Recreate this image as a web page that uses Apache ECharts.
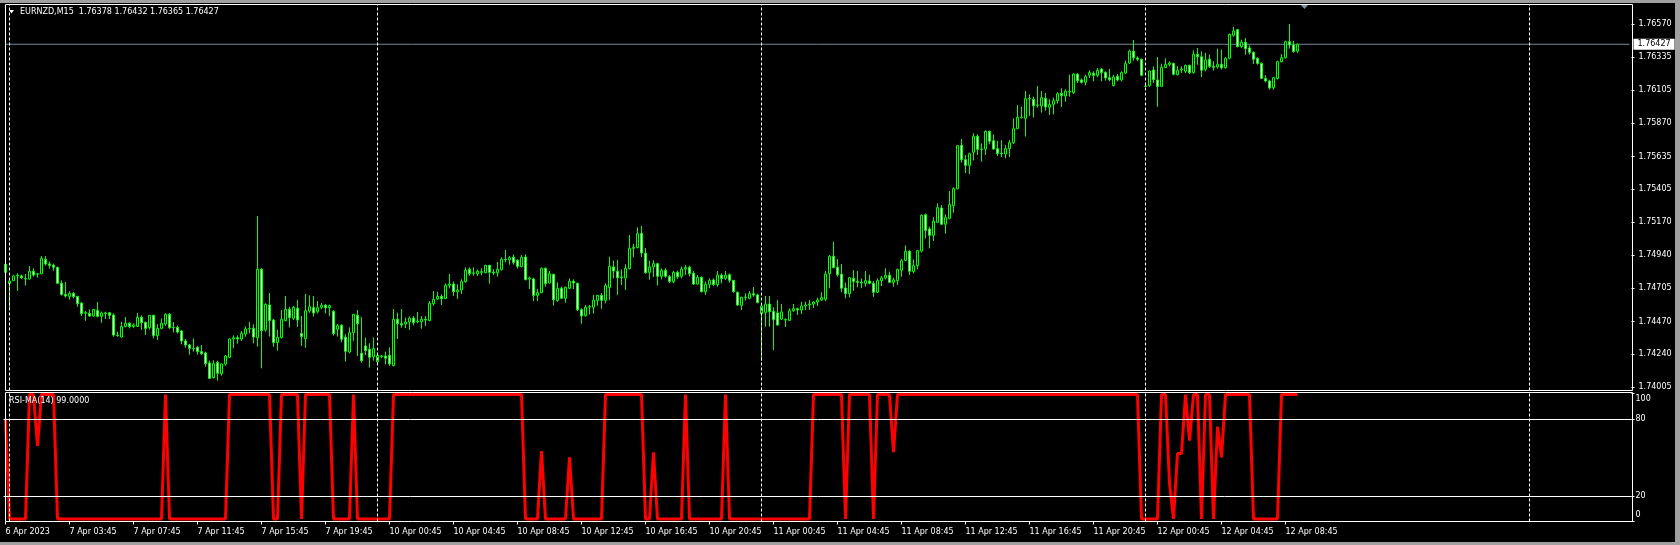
<!DOCTYPE html>
<html>
<head>
<meta charset="utf-8">
<title>EURNZD,M15</title>
<script src="https://cdn.jsdelivr.net/npm/echarts@6/dist/echarts.min.js"></script>
<style>
html, body { margin: 0; padding: 0; background: #000; }
#chart { width: 1680px; height: 545px; }
#frame { position: absolute; left: 0; top: 0; width: 1680px; height: 545px; box-sizing: border-box;
    border-top: 3px solid #a0a0a0; border-right: 5px solid #a0a0a0; border-bottom: 3px solid #a0a0a0; pointer-events: none; }
</style>
</head>
<body>
<div id="chart"></div>
<div id="frame"></div>
<script>
// M15 bars, 6 Apr 23:45 .. 12 Apr 08:45
var timeLabels = ['6 Apr 2023', '7 Apr 03:45', '7 Apr 07:45', '7 Apr 11:45', '7 Apr 15:45', '7 Apr 19:45',
    '10 Apr 00:45', '10 Apr 04:45', '10 Apr 08:45', '10 Apr 12:45', '10 Apr 16:45', '10 Apr 20:45',
    '11 Apr 00:45', '11 Apr 04:45', '11 Apr 08:45', '11 Apr 12:45', '11 Apr 16:45', '11 Apr 20:45',
    '12 Apr 00:45', '12 Apr 04:45', '12 Apr 08:45'];
var labelStep = 16;
var slotCount = 407;
var daySeparators = [1, 93, 189, 285, 381];
var priceTicks = [1.74005, 1.74240, 1.74470, 1.74705, 1.74940, 1.75170, 1.75405, 1.75635, 1.75870, 1.76105, 1.76335, 1.76570];
var rsiTicks = [0, 20, 80, 100];
var rsiLevels = [80, 20];
var lastPrice = 1.76427;

var opens = [
1.74873,1.74737,1.74758,1.74791,1.74791,1.74772,1.74770,1.74824,1.74803,1.74807,
1.74908,1.74876,1.74866,1.74852,1.74739,1.74661,1.74647,1.74668,1.74647,1.74600,
1.74527,1.74527,1.74508,1.74548,1.74506,1.74530,1.74532,1.74515,1.74374,1.74360,
1.74435,1.74457,1.74435,1.74435,1.74499,1.74464,1.74426,1.74513,1.74370,1.74421,
1.74452,1.74520,1.74426,1.74428,1.74403,1.74332,1.74304,1.74280,1.74287,1.74257,
1.74247,1.74177,1.74073,1.74181,1.74101,1.74170,1.74217,1.74346,1.74355,1.74346,
1.74381,1.74417,1.74421,1.74355,1.74838,1.74410,1.74586,1.74480,1.74320,1.74356,
1.74476,1.74556,1.74492,1.74563,1.74384,1.74348,1.74544,1.74567,1.74539,1.74570,
1.74584,1.74567,1.74541,1.74414,1.74443,1.74358,1.74254,1.74391,1.74513,1.74245,
1.74297,1.74273,1.74221,1.74184,1.74221,1.74226,1.74231,1.74158,1.74485,1.74454,
1.74452,1.74466,1.74494,1.74468,1.74468,1.74485,1.74476,1.74596,1.74629,1.74647,
1.74631,1.74725,1.74734,1.74680,1.74692,1.74751,1.74838,1.74812,1.74807,1.74821,
1.74814,1.74866,1.74817,1.74814,1.74836,1.74909,1.74904,1.74923,1.74901,1.74857,
1.74925,1.74770,1.74770,1.74654,1.74673,1.74845,1.74741,1.74803,1.74617,1.74704,
1.74633,1.74704,1.74753,1.74739,1.74553,1.74511,1.74570,1.74570,1.74617,1.74654,
1.74619,1.74709,1.74854,1.74824,1.74779,1.74777,1.74843,1.74986,1.74991,1.75090,
1.74951,1.74817,1.74854,1.74878,1.74789,1.74831,1.74786,1.74751,1.74817,1.74789,
1.74840,1.74852,1.74810,1.74734,1.74781,1.74680,1.74732,1.74763,1.74730,1.74796,
1.74774,1.74800,1.74760,1.74676,1.74584,1.74640,1.74633,1.74666,1.74657,1.74525,
1.74534,1.74593,1.74541,1.74530,1.74487,1.74483,1.74478,1.74546,1.74560,1.74551,
1.74579,1.74586,1.74593,1.74607,1.74621,1.74626,1.74807,1.74930,1.74852,1.74803,
1.74706,1.74666,1.74774,1.74753,1.74746,1.74739,1.74756,1.74739,1.74676,1.74758,
1.74777,1.74796,1.74746,1.74758,1.74831,1.74901,1.74965,1.74822,1.74864,1.74967,
1.75224,1.75123,1.75078,1.75170,1.75271,1.75156,1.75198,1.75287,1.75407,1.75713,
1.75612,1.75572,1.75664,1.75777,1.75687,1.75687,1.75812,1.75746,1.75690,1.75657,
1.75652,1.75690,1.75732,1.75831,1.75909,1.75904,1.76045,1.76038,1.75996,1.75991,
1.76045,1.75982,1.76003,1.76029,1.76081,1.76062,1.76090,1.76085,1.76215,1.76175,
1.76158,1.76208,1.76222,1.76208,1.76252,1.76229,1.76191,1.76135,1.76201,1.76175,
1.76224,1.76295,1.76377,1.76330,1.76321,1.76132,1.76135,1.76245,1.76175,1.76130,
1.76262,1.76285,1.76292,1.76212,1.76245,1.76236,1.76278,1.76227,1.76356,1.76339,
1.76250,1.76321,1.76271,1.76267,1.76285,1.76262,1.76328,1.76490,1.76530,1.76410,
1.76441,1.76401,1.76370,1.76328,1.76292,1.76186,1.76168,1.76121,1.76186,1.76304,
1.76332,1.76445,1.76422,1.76378];

var highs = [
1.74880,1.74760,1.74798,1.74810,1.74800,1.74805,1.74861,1.74845,1.74810,1.74932,
1.74932,1.74892,1.74878,1.74857,1.74760,1.74748,1.74683,1.74678,1.74650,1.74607,
1.74544,1.74555,1.74555,1.74607,1.74539,1.74539,1.74537,1.74527,1.74398,1.74468,
1.74501,1.74464,1.74457,1.74530,1.74513,1.74468,1.74513,1.74518,1.74450,1.74490,
1.74527,1.74530,1.74466,1.74440,1.74410,1.74346,1.74311,1.74351,1.74297,1.74304,
1.74257,1.74193,1.74195,1.74193,1.74172,1.74233,1.74351,1.74372,1.74372,1.74403,
1.74435,1.74468,1.74450,1.75214,1.74847,1.74598,1.74671,1.74487,1.74410,1.74551,
1.74650,1.74574,1.74579,1.74621,1.74508,1.74664,1.74654,1.74650,1.74614,1.74600,
1.74593,1.74589,1.74551,1.74452,1.74450,1.74379,1.74428,1.74523,1.74551,1.74501,
1.74356,1.74316,1.74356,1.74245,1.74233,1.74257,1.74287,1.74558,1.74532,1.74558,
1.74497,1.74504,1.74508,1.74537,1.74508,1.74508,1.74614,1.74685,1.74680,1.74661,
1.74739,1.74805,1.74751,1.74732,1.74767,1.74852,1.74852,1.74852,1.74836,1.74845,
1.74869,1.74869,1.74838,1.74890,1.74923,1.74974,1.74932,1.74942,1.74911,1.74939,
1.74944,1.74786,1.74779,1.74699,1.74850,1.74850,1.74826,1.74805,1.74746,1.74716,
1.74716,1.74774,1.74767,1.74744,1.74563,1.74586,1.74586,1.74657,1.74657,1.74671,
1.74739,1.74927,1.74899,1.74904,1.74838,1.74873,1.75080,1.75017,1.75134,1.75144,
1.74989,1.74899,1.74902,1.74883,1.74845,1.74845,1.74798,1.74826,1.74829,1.74857,
1.74869,1.74864,1.74826,1.74798,1.74789,1.74751,1.74774,1.74774,1.74826,1.74810,
1.74826,1.74810,1.74763,1.74680,1.74645,1.74669,1.74685,1.74713,1.74666,1.74596,
1.74650,1.74650,1.74570,1.74621,1.74593,1.74492,1.74563,1.74593,1.74567,1.74609,
1.74609,1.74621,1.74614,1.74638,1.74676,1.74826,1.74939,1.75033,1.74911,1.74876,
1.74744,1.74784,1.74833,1.74826,1.74774,1.74826,1.74800,1.74756,1.74774,1.74791,
1.74845,1.74822,1.74779,1.74843,1.74911,1.75007,1.74974,1.74908,1.74974,1.75226,
1.75231,1.75139,1.75205,1.75304,1.75292,1.75226,1.75391,1.75417,1.75716,1.75758,
1.75645,1.75662,1.75798,1.75791,1.75727,1.75819,1.75817,1.75791,1.75744,1.75749,
1.75716,1.75751,1.75904,1.75998,1.75986,1.76097,1.76073,1.76057,1.76132,1.76097,
1.76083,1.76038,1.76050,1.76088,1.76116,1.76109,1.76212,1.76221,1.76224,1.76186,
1.76212,1.76243,1.76236,1.76259,1.76259,1.76236,1.76252,1.76212,1.76217,1.76236,
1.76311,1.76389,1.76457,1.76342,1.76325,1.76142,1.76241,1.76271,1.76337,1.76290,
1.76328,1.76307,1.76297,1.76271,1.76271,1.76283,1.76283,1.76384,1.76401,1.76377,
1.76365,1.76354,1.76307,1.76396,1.76389,1.76335,1.76502,1.76549,1.76535,1.76459,
1.76471,1.76419,1.76377,1.76335,1.76299,1.76208,1.76177,1.76196,1.76311,1.76358,
1.76452,1.76570,1.76452,1.76432];

var lows = [
1.74814,1.74563,1.74755,1.74685,1.74770,1.74723,1.74765,1.74786,1.74779,1.74805,
1.74864,1.74843,1.74828,1.74737,1.74652,1.74638,1.74624,1.74633,1.74574,1.74508,
1.74475,1.74504,1.74504,1.74499,1.74461,1.74487,1.74487,1.74362,1.74362,1.74355,
1.74428,1.74421,1.74424,1.74431,1.74410,1.74374,1.74412,1.74351,1.74339,1.74414,
1.74438,1.74417,1.74393,1.74384,1.74308,1.74285,1.74235,1.74257,1.74235,1.74233,
1.74151,1.74066,1.74068,1.74052,1.74087,1.74158,1.74214,1.74280,1.74313,1.74332,
1.74362,1.74386,1.74315,1.74292,1.74139,1.74398,1.74363,1.74292,1.74264,1.74351,
1.74471,1.74428,1.74480,1.74431,1.74297,1.74285,1.74532,1.74504,1.74527,1.74556,
1.74527,1.74508,1.74370,1.74363,1.74323,1.74186,1.74245,1.74334,1.74226,1.74179,
1.74233,1.74144,1.74193,1.74174,1.74210,1.74167,1.74156,1.74153,1.74346,1.74426,
1.74424,1.74410,1.74443,1.74457,1.74419,1.74438,1.74471,1.74581,1.74621,1.74586,
1.74629,1.74704,1.74650,1.74629,1.74664,1.74744,1.74793,1.74793,1.74791,1.74796,
1.74810,1.74737,1.74798,1.74786,1.74829,1.74887,1.74871,1.74871,1.74843,1.74852,
1.74760,1.74699,1.74614,1.74614,1.74669,1.74716,1.74737,1.74581,1.74610,1.74629,
1.74603,1.74699,1.74699,1.74544,1.74454,1.74504,1.74520,1.74525,1.74581,1.74560,
1.74598,1.74621,1.74774,1.74657,1.74727,1.74692,1.74838,1.74923,1.74986,1.74925,
1.74807,1.74765,1.74784,1.74723,1.74767,1.74779,1.74741,1.74739,1.74770,1.74774,
1.74798,1.74789,1.74727,1.74730,1.74676,1.74657,1.74704,1.74720,1.74716,1.74739,
1.74763,1.74744,1.74673,1.74579,1.74551,1.74617,1.74626,1.74645,1.74598,1.74191,
1.74433,1.74433,1.74268,1.74440,1.74480,1.74431,1.74473,1.74539,1.74516,1.74523,
1.74551,1.74551,1.74565,1.74579,1.74614,1.74614,1.74704,1.74845,1.74786,1.74676,
1.74633,1.74640,1.74687,1.74711,1.74704,1.74716,1.74732,1.74643,1.74671,1.74720,
1.74767,1.74741,1.74716,1.74727,1.74786,1.74897,1.74798,1.74810,1.74838,1.74958,
1.75057,1.74986,1.75038,1.75167,1.75151,1.75090,1.75191,1.75238,1.75403,1.75591,
1.75518,1.75511,1.75607,1.75645,1.75598,1.75645,1.75720,1.75683,1.75638,1.75631,
1.75622,1.75631,1.75723,1.75829,1.75904,1.75775,1.75920,1.75909,1.75979,1.75944,
1.75958,1.75928,1.75932,1.76008,1.75984,1.76022,1.76057,1.76076,1.76153,1.76149,
1.76137,1.76189,1.76165,1.76194,1.76165,1.76170,1.76165,1.76130,1.76165,1.76165,
1.76217,1.76288,1.76311,1.76307,1.76201,1.76125,1.76128,1.76154,1.75986,1.76125,
1.76259,1.76271,1.76208,1.76208,1.76224,1.76224,1.76217,1.76219,1.76283,1.76196,
1.76236,1.76259,1.76241,1.76255,1.76248,1.76255,1.76321,1.76481,1.76405,1.76401,
1.76354,1.76354,1.76288,1.76283,1.76182,1.76158,1.76106,1.76106,1.76177,1.76299,
1.76325,1.76396,1.76368,1.76365];

var closes = [
1.74817,1.74755,1.74791,1.74796,1.74779,1.74770,1.74824,1.74798,1.74807,1.74916,
1.74876,1.74866,1.74852,1.74739,1.74661,1.74650,1.74668,1.74645,1.74595,1.74525,
1.74532,1.74508,1.74555,1.74506,1.74530,1.74525,1.74513,1.74374,1.74370,1.74435,
1.74457,1.74433,1.74445,1.74499,1.74461,1.74421,1.74513,1.74370,1.74421,1.74457,
1.74520,1.74426,1.74428,1.74395,1.74332,1.74304,1.74280,1.74278,1.74257,1.74242,
1.74172,1.74068,1.74172,1.74104,1.74170,1.74226,1.74346,1.74355,1.74346,1.74386,
1.74417,1.74421,1.74360,1.74838,1.74405,1.74591,1.74476,1.74320,1.74358,1.74485,
1.74556,1.74497,1.74570,1.74480,1.74363,1.74546,1.74574,1.74530,1.74567,1.74584,
1.74567,1.74581,1.74384,1.74440,1.74344,1.74259,1.74391,1.74520,1.74454,1.74193,
1.74264,1.74217,1.74278,1.74231,1.74226,1.74210,1.74170,1.74485,1.74454,1.74445,
1.74466,1.74494,1.74461,1.74473,1.74485,1.74480,1.74598,1.74626,1.74647,1.74631,
1.74725,1.74734,1.74680,1.74692,1.74751,1.74831,1.74807,1.74810,1.74824,1.74817,
1.74866,1.74817,1.74812,1.74838,1.74909,1.74906,1.74920,1.74887,1.74859,1.74923,
1.74765,1.74777,1.74654,1.74673,1.74845,1.74737,1.74807,1.74624,1.74704,1.74633,
1.74711,1.74753,1.74741,1.74553,1.74509,1.74570,1.74574,1.74619,1.74654,1.74619,
1.74723,1.74859,1.74826,1.74779,1.74784,1.74845,1.74986,1.74993,1.75090,1.74953,
1.74814,1.74854,1.74878,1.74789,1.74831,1.74789,1.74753,1.74817,1.74786,1.74840,
1.74850,1.74807,1.74734,1.74781,1.74680,1.74732,1.74760,1.74730,1.74796,1.74772,
1.74796,1.74760,1.74680,1.74586,1.74640,1.74643,1.74666,1.74657,1.74603,1.74579,
1.74593,1.74539,1.74483,1.74445,1.74537,1.74480,1.74546,1.74560,1.74551,1.74579,
1.74586,1.74593,1.74607,1.74621,1.74638,1.74805,1.74930,1.74850,1.74800,1.74704,
1.74668,1.74779,1.74753,1.74746,1.74741,1.74758,1.74739,1.74676,1.74758,1.74777,
1.74796,1.74746,1.74763,1.74836,1.74899,1.74965,1.74824,1.74864,1.74970,1.75219,
1.75113,1.75078,1.75177,1.75273,1.75156,1.75203,1.75295,1.75407,1.75711,1.75612,
1.75572,1.75654,1.75777,1.75685,1.75685,1.75812,1.75742,1.75687,1.75654,1.75654,
1.75690,1.75732,1.75831,1.75911,1.75911,1.76043,1.76043,1.75993,1.75998,1.76050,
1.75984,1.76001,1.76029,1.76078,1.76064,1.76095,1.76095,1.76217,1.76170,1.76158,
1.76198,1.76227,1.76208,1.76243,1.76227,1.76189,1.76177,1.76196,1.76175,1.76227,
1.76290,1.76379,1.76332,1.76321,1.76208,1.76130,1.76238,1.76177,1.76128,1.76264,
1.76285,1.76295,1.76215,1.76243,1.76252,1.76278,1.76227,1.76356,1.76339,1.76243,
1.76316,1.76271,1.76264,1.76285,1.76262,1.76328,1.76497,1.76521,1.76410,1.76441,
1.76396,1.76370,1.76321,1.76292,1.76186,1.76168,1.76118,1.76191,1.76304,1.76332,
1.76445,1.76422,1.76375,1.76427];

var rsiMa = [
80,2,2,2,2,2,99,99,59,99,99,99,99,2,2,2,2,2,2,2,
2,2,2,2,2,2,2,2,2,2,2,2,2,2,2,2,2,2,2,2,
99,2,2,2,2,2,2,2,2,2,2,2,2,2,2,2,99,99,99,99,
99,99,99,99,99,99,99,2,2,99,99,99,99,99,2,99,99,99,99,99,
99,99,2,2,2,2,2,99,2,2,2,2,2,2,2,2,2,99,99,99,
99,99,99,99,99,99,99,99,99,99,99,99,99,99,99,99,99,99,99,99,
99,99,99,99,99,99,99,99,99,99,2,2,2,2,55,2,2,2,2,2,
2,50,2,2,2,2,2,2,2,2,99,99,99,99,99,99,99,99,99,99,
2,2,54,2,2,2,2,2,2,2,99,2,2,2,2,2,2,2,2,2,
99,2,2,2,2,2,2,2,2,2,2,2,2,2,2,2,2,2,2,2,
2,2,99,99,99,99,99,99,99,99,2,99,99,99,99,99,99,2,99,99,
99,99,54,99,99,99,99,99,99,99,99,99,99,99,99,99,99,99,99,99,
99,99,99,99,99,99,99,99,99,99,99,99,99,99,99,99,99,99,99,99,
99,99,99,99,99,99,99,99,99,99,99,99,99,99,99,99,99,99,99,99,
99,99,99,99,2,2,2,2,2,99,99,30,2,53,53,99,63,99,99,2,
99,99,2,74,50,99,99,99,99,99,99,99,2,2,2,2,2,2,2,99,
99,99,99,99];

var fontFamily = 'DejaVu Sans';
var categories = [];
for (var i = 0; i < slotCount; i++) {
    var k = i / labelStep;
    categories.push(i % labelStep === 0 && k < timeLabels.length ? timeLabels[k] : '');
}
var candles = opens.map(function (o, i) {
    return [o, closes[i], lows[i], highs[i]];
});
var isLabel = function (index) {
    return categories[index] !== '';
};
var separatorLines = daySeparators.map(function (idx) {
    return { xAxis: idx, lineStyle: { color: '#ffffff', type: [3, 2], width: 1 }, label: { show: false } };
});
var textStyle = { color: '#fff', fontSize: 8, fontWeight: 'normal', fontFamily: fontFamily };

var option = {
    backgroundColor: '#000',
    animation: false,
    title: [{
        text: 'EURNZD,M15  1.76378 1.76432 1.76365 1.76427',
        left: 20, top: 8, padding: 0, textStyle: textStyle
    }, {
        text: 'RSI-MA(14) 99.0000',
        left: 9, top: 397, padding: 0, textStyle: textStyle
    }],
    graphic: [
        { type: 'polygon', shape: { points: [[9, 10], [14, 10], [11.5, 13.5]] }, style: { fill: '#fff' } },
        // chart shift marker
        { type: 'polygon', shape: { points: [[1300, 4], [1309, 4], [1304.5, 9]] }, style: { fill: '#8090a0' } },
        { type: 'rect', z: 100, shape: { x: 5.5, y: 4.5, width: 1627, height: 386 }, style: { fill: null, stroke: '#fff', lineWidth: 1 } },
        { type: 'rect', z: 100, shape: { x: 5.5, y: 392.5, width: 1627, height: 129 }, style: { fill: null, stroke: '#fff', lineWidth: 1 } }
    ],
    grid: [
        { left: 3.5, top: 4.5, width: 1628, height: 386 },
        { left: 3.5, top: 392.5, width: 1628, height: 129 }
    ],
    xAxis: [{
        type: 'category', gridIndex: 0, data: categories, boundaryGap: true,
        axisLine: { show: false }, axisTick: { show: false }, axisLabel: { show: false }, splitLine: { show: false }
    }, {
        type: 'category', gridIndex: 1, data: categories, boundaryGap: true,
        axisLine: { show: false },
        axisTick: { show: true, alignWithLabel: true, interval: isLabel, length: 3, lineStyle: { color: '#fff' } },
        axisLabel: {
            show: true, interval: isLabel, align: 'left', margin: 6,
            color: '#fff', fontSize: 8, fontFamily: fontFamily
        },
        splitLine: { show: false }
    }],
    yAxis: [{
        type: 'value', gridIndex: 0, position: 'right',
        min: 1.739824, max: 1.767077,
        axisLine: { show: false },
        axisTick: { show: true, customValues: priceTicks, length: 3, lineStyle: { color: '#fff' } },
        axisLabel: {
            customValues: priceTicks, margin: 7, color: '#fff', fontSize: 8, fontFamily: fontFamily,
            formatter: function (v) { return v.toFixed(5); }
        },
        splitLine: { show: false }
    }, {
        type: 'value', gridIndex: 1, position: 'right',
        min: 0, max: 100.6,
        axisLine: { show: false },
        axisTick: { show: true, customValues: rsiTicks, length: 3, lineStyle: { color: '#fff' } },
        axisLabel: {
            customValues: rsiTicks, margin: 4, color: '#fff', fontSize: 8, fontFamily: fontFamily,
            formatter: function (v) {
                if (v === 100) return '{top|100}';
                if (v === 0) return '{bottom|0}';
                return String(v);
            },
            rich: {
                top: { padding: [11, 0, 0, 0], color: '#fff', fontSize: 8, fontFamily: fontFamily },
                bottom: { padding: [0, 0, 13, 0], color: '#fff', fontSize: 8, fontFamily: fontFamily }
            }
        },
        splitLine: { show: false }
    }],
    series: [{
        // current bid line
        name: 'price',
        type: 'line',
        xAxisIndex: 0, yAxisIndex: 0,
        data: [[0, lastPrice], [slotCount - 1, lastPrice]],
        symbol: 'none', silent: true, z: 1,
        lineStyle: { color: '#778899', width: 1 },
        endLabel: {
            show: true, distance: 4,
            formatter: lastPrice.toFixed(5),
            backgroundColor: '#fff', color: '#000', padding: [2, 4, 1, 4],
            fontSize: 8, fontFamily: fontFamily
        }
    }, {
        name: 'EURNZD',
        type: 'candlestick',
        xAxisIndex: 0, yAxisIndex: 0,
        data: candles,
        barWidth: 2,
        z: 3,
        itemStyle: {
            color: '#000', color0: '#fff',
            borderColor: '#00ff00', borderColor0: '#00ff00', borderWidth: 1
        },
        markLine: {
            silent: true, symbol: ['none', 'none'], animation: false,
            data: separatorLines
        }
    }, {
        name: 'RSI-MA(14)',
        type: 'line',
        xAxisIndex: 1, yAxisIndex: 1,
        data: rsiMa,
        symbol: 'none',
        lineStyle: { color: '#ff0000', width: 3 },
        markLine: {
            silent: true, symbol: ['none', 'none'], animation: false,
            data: separatorLines.concat(rsiLevels.map(function (lv) {
                return { yAxis: lv, lineStyle: { color: '#fff', type: 'solid', width: 1 }, label: { show: false } };
            }))
        }
    }]
};

var chart = echarts.init(document.getElementById('chart'));
chart.setOption(option);
</script>
</body>
</html>
